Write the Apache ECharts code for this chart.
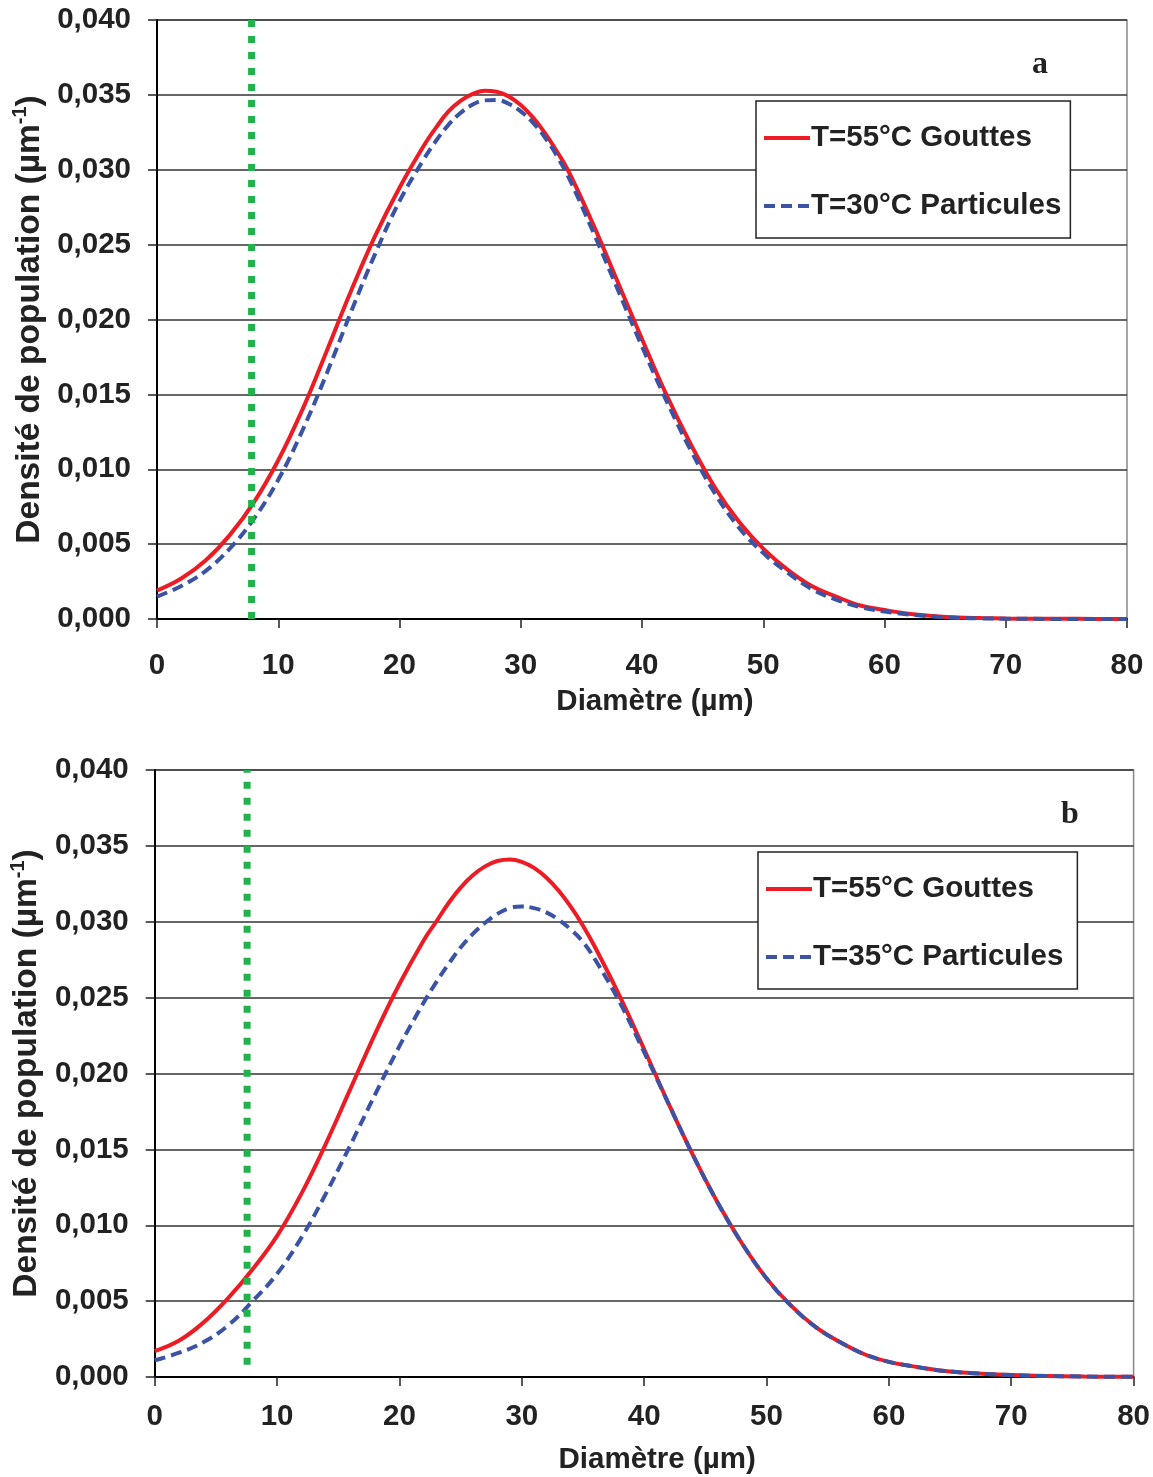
<!DOCTYPE html>
<html>
<head>
<meta charset="utf-8">
<script src="https://cdn.jsdelivr.net/npm/echarts@6/dist/echarts.min.js"></script>
<style>
html,body{margin:0;padding:0;background:#fff;}
#c{width:1153px;height:1477px;}
</style>
</head>
<body>
<div id="c"></div>
<script>
// ---- Data (chart a) ----
const xA = [0,2,4,6,8,10,12,14,16,18,20,22,23,24,25,26,27,28,29,30,31,32,33,34,36,38,40,42,44,46,48,50,52,54,56,58,60,62,64,66,68,70,72,76,80];
const redA = [0.0019,0.0027,0.0039,0.0056,0.0078,0.0106,0.0140,0.0179,0.0219,0.0256,0.0288,0.0316,0.0328,0.03386,0.03458,0.03505,0.03527,0.03521,0.0349,0.03432,0.0335,0.03245,0.0312,0.0298,0.0263,0.0225,0.0187,0.0150,0.0117,0.0088,0.0065,0.0047,0.0033,0.0022,0.0015,0.0009,0.0006,0.00035,0.0002,0.0001,0.00006,0.00003,0.00002,0.00001,0];
const blueA = [0.0015,0.0022,0.0032,0.0047,0.0067,0.0093,0.0126,0.0164,0.0205,0.0244,0.0279,0.0307,0.03192,0.03296,0.03377,0.03434,0.03463,0.03466,0.03441,0.0339,0.03315,0.03215,0.0309,0.0294,0.0258,0.0220,0.0182,0.0146,0.0113,0.0084,0.0061,0.0044,0.0031,0.0020,0.0013,0.0008,0.0005,0.0003,0.00016,0.00008,0.00004,0.00002,0.00001,0,0];
const greenAX = 7.8;
const greenAY = [0, 0.040];

// ---- Data (chart b) ----
const xB = [0,2,4,6,8,10,12,14,16,18,20,22,23,24,25,26,27,28,29,30,31,32,33,34,35,36,38,40,42,44,46,48,50,52,54,56,58,60,62,64,66,68,70,72,76,80];
const redB = [0.0017,0.0024,0.0036,0.0052,0.0071,0.0093,0.0121,0.0154,0.0190,0.0226,0.0259,0.0288,0.0300,0.03122,0.03225,0.03306,0.03365,0.0340,0.0341,0.03395,0.03355,0.03292,0.03206,0.03099,0.02974,0.0283,0.0251,0.0216,0.0180,0.0146,0.0115,0.0088,0.0065,0.0047,0.0033,0.0023,0.0015,0.0010,0.0007,0.00045,0.0003,0.0002,0.00013,0.00008,0.00003,0.00001];
const blueB = [0.0011,0.0016,0.0023,0.0034,0.0050,0.0068,0.0092,0.0121,0.0153,0.0186,0.0218,0.0247,0.0260,0.0272,0.0283,0.0292,0.02993,0.03052,0.0309,0.0310,0.0309,0.03062,0.03014,0.02949,0.02867,0.0275,0.0247,0.0214,0.0180,0.0146,0.0115,0.0088,0.0065,0.0047,0.0033,0.0023,0.0015,0.0010,0.0007,0.00045,0.0003,0.0002,0.00013,0.00008,0.00003,0.00001];
const greenBX = 7.55;
const greenBY = [0.0008, 0.040];

const nameRed = 'T=55°C Gouttes';
const nameBlueA = 'T=30°C Particules';
const nameBlueB = 'T=35°C Particules';
const panelLetters = ['a', 'b'];
const xTitle = 'Diamètre (µm)';

const pairs = (xs, ys) => xs.map((x, i) => [x, ys[i]]);

const FONT = '"Liberation Sans", Arial, sans-serif';
const FS = 29.5;
const RED = '#ED1C24', BLUE = '#3A53A4', GREEN = '#22B24C';

function xAxis(gi, margin) {
  return {
    type: 'value', gridIndex: gi, min: 0, max: 80, interval: 10,
    axisLine: {show: true, onZero: false, lineStyle: {color: '#000', width: 2}},
    axisTick: {show: true, inside: false, length: 9, lineStyle: {color: '#222', width: 1.5}},
    axisLabel: {color: '#222', fontFamily: FONT, fontWeight: 'bold', fontSize: FS, margin: margin},
    splitLine: {show: false},
    name: xTitle, nameLocation: 'middle', nameGap: 68,
    nameTextStyle: {color: '#222', fontFamily: FONT, fontWeight: 'bold', fontSize: FS, padding: [0, 0, 0, 26]}
  };
}
function yAxis(gi) {
  return {
    type: 'value', gridIndex: gi, min: 0, max: 0.04, interval: 0.005,
    axisLine: {show: true, lineStyle: {color: '#000', width: 2}},
    axisTick: {show: true, inside: false, length: 9, lineStyle: {color: '#222', width: 1.5}},
    axisLabel: {color: '#222', fontFamily: FONT, fontWeight: 'bold', fontSize: FS, margin: 26,
      formatter: v => v.toFixed(3).replace('.', ',')},
    splitLine: {show: true, lineStyle: {color: '#333', width: 1.5}},
    name: '{a|Densité de population (µm}{s|-1}{a|)}',
    nameLocation: 'middle', nameRotate: 90, nameGap: 102,
    nameTextStyle: {
      rich: {
        a: {color: '#222', fontFamily: FONT, fontWeight: 'bold', fontSize: 33.5, lineHeight: 36, verticalAlign: 'bottom'},
        s: {color: '#222', fontFamily: FONT, fontWeight: 'bold', fontSize: 20, lineHeight: 36, verticalAlign: 'top', padding: [0, 0, 15, 0]}
      }
    }
  };
}
function legend(left, top, names, padRight) {
  return {
    data: names, orient: 'vertical', left: left, top: top,
    backgroundColor: '#fff', borderColor: '#222', borderWidth: 1.5,
    padding: [22, padRight, 17, 6], itemGap: 38, itemWidth: 46, itemHeight: 16,
    itemStyle: {opacity: 0},
    lineStyle: {width: 4},
    textStyle: {color: '#222', fontFamily: FONT, fontWeight: 'bold', fontSize: FS, lineHeight: 30, padding: [0, 0, 0, -4]},
    selectedMode: false
  };
}
function lineSeries(name, gi, data, color, dash, z) {
  return {
    type: 'line', name: name, xAxisIndex: gi, yAxisIndex: gi, data: data,
    smooth: 0.4, symbol: 'none', z: z, silent: true,
    lineStyle: {color: color, width: 4, type: dash || 'solid'},
    itemStyle: {color: color}
  };
}

const option = {
  animation: false,
  backgroundColor: '#fff',
  grid: [
    {left: 157, right: 26, top: 20, height: 599, show: true, borderColor: '#888', borderWidth: 1.5, backgroundColor: 'transparent'},
    {left: 151, right: 18, top: 770, height: 607, show: true, borderColor: '#888', borderWidth: 1.5, backgroundColor: 'transparent'}
  ],
  xAxis: [xAxis(0, 32), xAxis(1, 25)],
  yAxis: [yAxis(0), yAxis(1)],
  legend: [
    legend(756, 101, [nameRed, nameBlueA], 9),
    legend(758, 852, [nameRed, nameBlueB], 14)
  ],
  series: [
    lineSeries(nameRed, 0, pairs(xA, redA), RED, null, 3),
    lineSeries(nameBlueA, 0, pairs(xA, blueA), BLUE, [11, 6], 4),
    {type: 'line', xAxisIndex: 0, yAxisIndex: 0, data: greenAY.map(y => [greenAX, y]), symbol: 'none', z: 5, silent: true,
     lineStyle: {color: GREEN, width: 7, type: [7, 9]}},
    lineSeries(nameRed, 1, pairs(xB, redB), RED, null, 3),
    lineSeries(nameBlueB, 1, pairs(xB, blueB), BLUE, [11, 6], 4),
    {type: 'line', xAxisIndex: 1, yAxisIndex: 1, data: greenBY.map(y => [greenBX, y]), symbol: 'none', z: 5, silent: true,
     lineStyle: {color: GREEN, width: 7, type: [7, 9]}}
  ],
  graphic: [
    {type: 'text', left: 1032, top: 49, z: 10, style: {text: panelLetters[0], fill: '#222', font: 'bold 32px "Liberation Serif", "Times New Roman", serif'}},
    {type: 'text', left: 1061, top: 799, z: 10, style: {text: panelLetters[1], fill: '#222', font: 'bold 32px "Liberation Serif", "Times New Roman", serif'}}
  ]
};

const chart = echarts.init(document.getElementById('c'), null, {renderer: 'canvas'});
chart.setOption(option);
</script>
</body>
</html>
